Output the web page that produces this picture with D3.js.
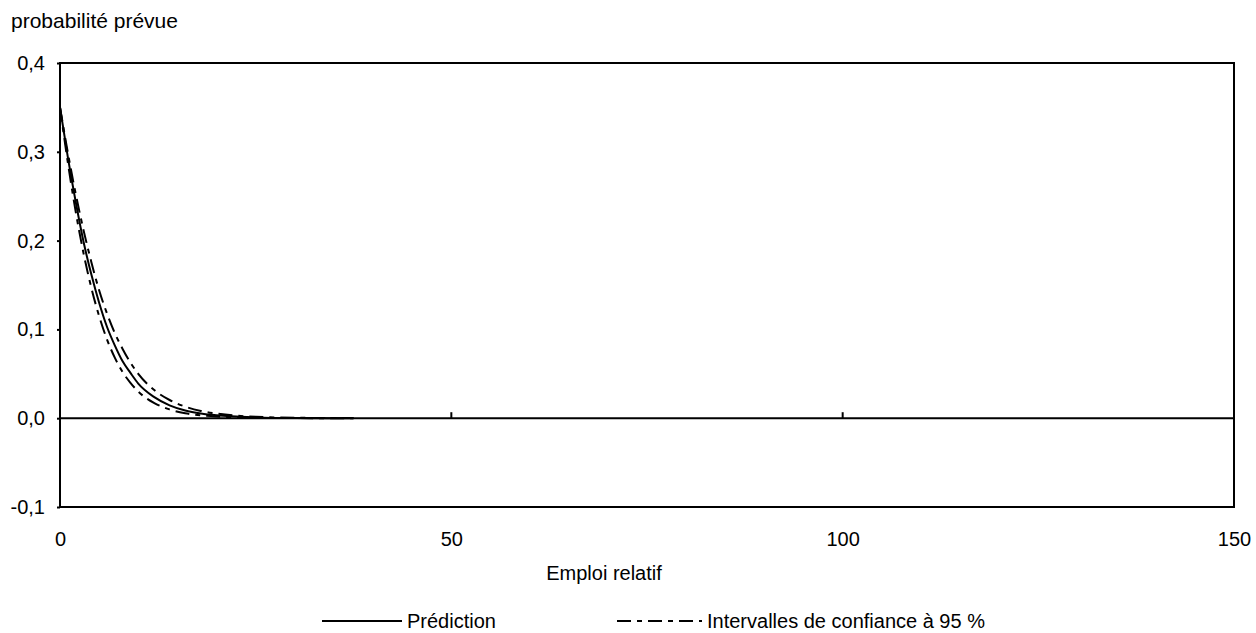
<!DOCTYPE html>
<html>
<head>
<meta charset="utf-8">
<script src="https://cdn.jsdelivr.net/npm/d3@7"></script>
<style>
  body { margin: 0; background: #fff; }
  text { font-family: "Liberation Sans", Arial, sans-serif; fill: #000; }
</style>
</head>
<body>
<div id="chart"></div>
<script>
// data
var emploi = [0, 1, 2, 3, 4, 5, 6, 7, 8, 9, 10, 12, 14, 16, 18, 20, 25, 30, 37.5];
var prediction = [0.350, 0.294, 0.244, 0.199, 0.162, 0.130, 0.103, 0.082, 0.064, 0.051, 0.039, 0.024, 0.0145, 0.0087, 0.0053, 0.0032, 0.0009, 0.0002, 0.0];
var borneHaute = [0.350, 0.299, 0.253, 0.212, 0.176, 0.144, 0.118, 0.096, 0.078, 0.0626, 0.050, 0.032, 0.0205, 0.013, 0.0082, 0.0052, 0.0016, 0.0005, 0.0001];
var borneBasse = [0.350, 0.288, 0.233, 0.186, 0.147, 0.115, 0.0888, 0.0682, 0.052, 0.0398, 0.030, 0.0173, 0.0099, 0.0056, 0.0032, 0.0018, 0.0004, 0.0001, 0.0];
var xTicks = [0, 50, 100, 150];
var yTicks = [-0.1, 0, 0.1, 0.2, 0.3, 0.4];

var W = 1256, H = 633;
var margin = { top: 63, left: 60, right: 22, bottom: 126 };
var width = W - margin.left - margin.right;
var height = H - margin.top - margin.bottom;
var fs = "20px";

var svg = d3.select("#chart")
    .append("svg")
    .attr("width", W)
    .attr("height", H);

var g = svg.append("g")
    .attr("transform", "translate(" + margin.left + "," + margin.top + ")");

var x = d3.scaleLinear().domain([0, 150]).range([0, width]);
var y = d3.scaleLinear().domain([-0.1, 0.4]).range([height, 0]);

var fmt = function (d) { return d3.format(".1f")(d).replace(".", ",").replace("−", "-"); };

// y axis labels
g.append("g")
    .attr("class", "y axis")
    .call(d3.axisLeft(y).tickValues(yTicks).tickFormat(fmt).tickSize(3).tickPadding(12))
    .call(function (s) {
        s.select(".domain").remove();
        s.selectAll("line").attr("stroke", "#000").attr("stroke-width", 2);
        s.selectAll("text").style("font-size", fs).style("font-family", "Liberation Sans, Arial, sans-serif");
    });

// x tick labels at the bottom
g.append("g")
    .attr("class", "x axis")
    .attr("transform", "translate(0," + height + ")")
    .call(d3.axisBottom(x).tickValues(xTicks).tickSize(0).tickPadding(25))
    .call(function (s) {
        s.select(".domain").remove();
        s.selectAll("text").style("font-size", fs).style("font-family", "Liberation Sans, Arial, sans-serif");
    });

// zero line with small upward ticks
g.append("line")
    .attr("x1", 0).attr("x2", width)
    .attr("y1", y(0)).attr("y2", y(0))
    .attr("stroke", "#000").attr("stroke-width", 2);

g.selectAll(".zt")
    .data([50, 100])
    .enter().append("line")
    .attr("class", "zt")
    .attr("x1", function (d) { return x(d); })
    .attr("x2", function (d) { return x(d); })
    .attr("y1", y(0)).attr("y2", y(0) - 6)
    .attr("stroke", "#000").attr("stroke-width", 2);

// frame
g.append("rect")
    .attr("x", 0).attr("y", 0)
    .attr("width", width).attr("height", height)
    .attr("fill", "none")
    .attr("stroke", "#000").attr("stroke-width", 2);

var line = function (vals) {
    return d3.line()
        .x(function (d, i) { return x(emploi[i]); })
        .y(function (d) { return y(d); })
        .curve(d3.curveMonotoneX)(vals);
};

var dash = "14,6,5,6";

g.append("path").attr("d", line(borneHaute))
    .attr("fill", "none").attr("stroke", "#000").attr("stroke-width", 2)
    .attr("stroke-dasharray", dash);
g.append("path").attr("d", line(borneBasse))
    .attr("fill", "none").attr("stroke", "#000").attr("stroke-width", 2)
    .attr("stroke-dasharray", dash);
g.append("path").attr("d", line(prediction))
    .attr("fill", "none").attr("stroke", "#000").attr("stroke-width", 2);

// titles
svg.append("text")
    .attr("x", 11).attr("y", 28)
    .style("font-size", "21px")
    .text("probabilité prévue");

svg.append("text")
    .attr("x", 604).attr("y", 580)
    .attr("text-anchor", "middle")
    .style("font-size", fs)
    .text("Emploi relatif");

// legend
var ly = 621;
svg.append("line")
    .attr("x1", 322).attr("x2", 402).attr("y1", ly).attr("y2", ly)
    .attr("stroke", "#000").attr("stroke-width", 2);
svg.append("text")
    .attr("x", 407).attr("y", ly + 7)
    .style("font-size", fs)
    .text("Prédiction");

svg.append("line")
    .attr("x1", 617).attr("x2", 702).attr("y1", ly).attr("y2", ly)
    .attr("stroke", "#000").attr("stroke-width", 2)
    .attr("stroke-dasharray", dash);
svg.append("text")
    .attr("x", 707).attr("y", ly + 7)
    .style("font-size", fs)
    .text("Intervalles de confiance à 95 %");
</script>
</body>
</html>
